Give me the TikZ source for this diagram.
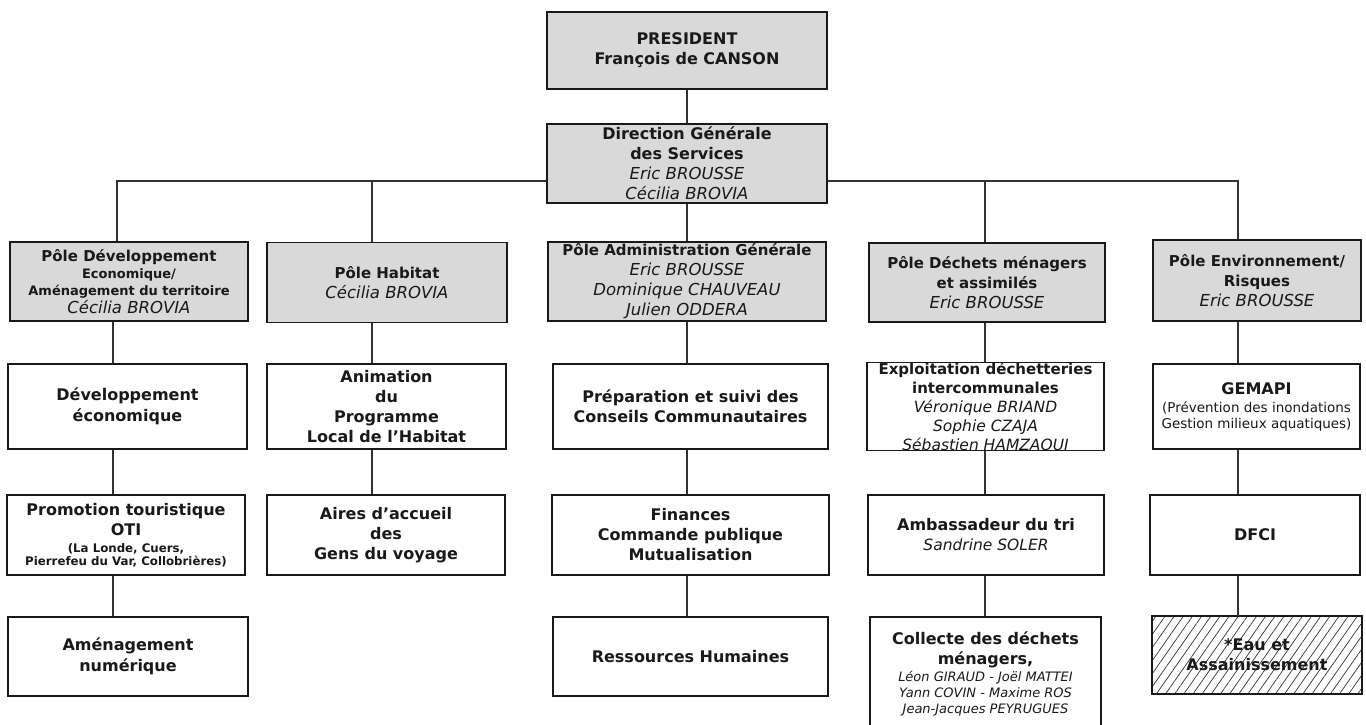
\documentclass[tikz,border=0pt]{standalone}
\usepackage{fontspec}
\setmainfont{DejaVu Sans}
\usetikzlibrary{patterns.meta}
\definecolor{polegray}{RGB}{217,217,217}
\newcommand{\pname}[1]{{\mdseries\itshape\fontsize{16.5}{20}\selectfont #1}}
\newcommand{\cname}[1]{{\mdseries\itshape\fontsize{15.5}{20}\selectfont #1}}
\newcommand{\subtxt}[1]{{\fontsize{13}{17}\selectfont #1}}
\newcommand{\tinytxt}[1]{{\fontsize{11.8}{13}\selectfont #1}}
\newcommand{\plaintxt}[1]{{\mdseries\fontsize{13.5}{17}\selectfont #1}}
\newcommand{\smallname}[1]{{\mdseries\itshape\fontsize{13}{16}\selectfont #1}}

\begin{document}
\begin{tikzpicture}[x=1pt,y=-1pt,
box/.style={draw=black!90, line width=1.7pt, inner sep=0pt, align=center, text=black!90, font=\bfseries\fontsize{16}{20}\selectfont},
pole/.style={box, fill=polegray, font=\bfseries\fontsize{15}{20}\selectfont},
link/.style={draw=black!80, line width=1.3pt}]
\useasboundingbox (0,0) rectangle (1366,724);

\node[box, fill=polegray, minimum width=280pt, minimum height=77pt] (pres) at (687,50.5) {PRESIDENT\\François de CANSON};
\node[box, fill=polegray, minimum width=280pt, minimum height=79pt] (dgs) at (687,163.5) {Direction Générale\\des Services\\\pname{Eric BROUSSE}\\\pname{Cécilia BROVIA}};

\node[pole, minimum width=238pt, minimum height=79pt] (p1) at (129,281.5) {Pôle Développement\\[-3pt]\subtxt{Economique/}\\[-3pt]\subtxt{Aménagement du territoire}\\[-2pt]\pname{Cécilia BROVIA}};
\node[pole, minimum width=240pt, minimum height=80pt] (p2) at (387,282.5) {Pôle Habitat\\\pname{Cécilia BROVIA}};
\node[pole, minimum width=278pt, minimum height=79pt] (p3) at (687,281.5) {Pôle Administration Générale\\\pname{Eric BROUSSE}\\\pname{Dominique CHAUVEAU}\\\pname{Julien ODDERA}};
\node[pole, minimum width=236pt, minimum height=79pt] (p4) at (987,282.5) {Pôle Déchets ménagers\\et assimilés\\\pname{Eric BROUSSE}};
\node[pole, minimum width=208pt, minimum height=81pt] (p5) at (1257,280.5) {Pôle Environnement/\\Risques\\\pname{Eric BROUSSE}};

\node[box, minimum width=239pt, minimum height=85pt] (d1) at (127.5,406.5) {Développement\\[1pt]économique};
\node[box, minimum width=239pt, minimum height=85pt] (d2) at (386.5,406.5) {Animation\\du\\Programme\\Local de l'Habitat};
\node[box, minimum width=275pt, minimum height=85pt] (d3) at (690.5,406.5) {Préparation et suivi des\\Conseils Communautaires};
\node[pole, fill=none, minimum width=237pt, minimum height=85pt] (d4) at (985.5,406.5) {Exploitation déchetteries\\[-1pt]intercommunales\\[-1pt]\cname{Véronique BRIAND}\\[-1pt]\cname{Sophie CZAJA}\\[-1pt]\cname{Sébastien HAMZAOUI}};
\node[box, minimum width=207pt, minimum height=85pt] (d5) at (1256.5,406.5) {GEMAPI\\[-2pt]\plaintxt{(Prévention des inondations}\\[-4pt]\plaintxt{Gestion milieux aquatiques)}};

\node[box, minimum width=238pt, minimum height=80pt] (e1) at (126,535) {Promotion touristique\\OTI\\[-3pt]\tinytxt{(La Londe, Cuers,}\\[-7pt]\tinytxt{Pierrefeu du Var, Collobrières)}};
\node[box, minimum width=238pt, minimum height=80pt] (e2) at (386,535) {Aires d'accueil\\des\\Gens du voyage};
\node[box, minimum width=277pt, minimum height=80pt] (e3) at (690.5,535) {Finances\\Commande publique\\Mutualisation};
\node[box, minimum width=236pt, minimum height=80pt] (e4) at (986,535) {Ambassadeur du tri\\\cname{Sandrine SOLER}};
\node[box, minimum width=210pt, minimum height=80pt] (e5) at (1255,535) {DFCI};

\node[box, minimum width=240pt, minimum height=79pt] (f1) at (128,656.5) {Aménagement\\[1pt]numérique};
\node[box, minimum width=275pt, minimum height=79pt] (f3) at (690.5,656.5) {Ressources Humaines};
\node[box, minimum width=231pt, minimum height=113pt] (f4) at (985.5,673.5) {Collecte des déchets\\ménagers,\\[-3pt]\smallname{Léon GIRAUD - Joël MATTEI}\\[-4pt]\smallname{Yann COVIN - Maxime ROS}\\[-4pt]\smallname{Jean-Jacques PEYRUGUES}};
\node[box, minimum width=210pt, minimum height=78pt, pattern={Lines[angle=55,distance=7.5pt,line width=0.7pt]}, pattern color=black!80] (f5) at (1257,655) {*Eau et\\Assainissement};

\coordinate (bus) at (687,181);
\coordinate (c1) at (117,0);
\coordinate (c2) at (372,0);
\coordinate (c4) at (985,0);
\coordinate (c5) at (1238,0);
\coordinate (k1) at (113,0);
\coordinate (k2) at (372,0);
\coordinate (k3) at (687,0);
\coordinate (k4) at (985,0);
\coordinate (k5) at (1238,0);

\draw[link] (pres) -- (dgs);
\draw[link] (dgs) -- (p3);
\draw[link] (dgs.west |- bus) -| (c1 |- p1.north);
\draw[link] (dgs.east |- bus) -| (c5 |- p5.north);
\draw[link] (c2 |- bus) -- (c2 |- p2.north);
\draw[link] (c4 |- bus) -- (c4 |- p4.north);
\foreach \a/\b/\k in {p1/d1/k1, d1/e1/k1, e1/f1/k1, p2/d2/k2, d2/e2/k2, p3/d3/k3, d3/e3/k3, e3/f3/k3, p4/d4/k4, d4/e4/k4, e4/f4/k4, p5/d5/k5, d5/e5/k5, e5/f5/k5}
\draw[link] (\k |- \a.south) -- (\k |- \b.north);
\end{tikzpicture}
\end{document}
